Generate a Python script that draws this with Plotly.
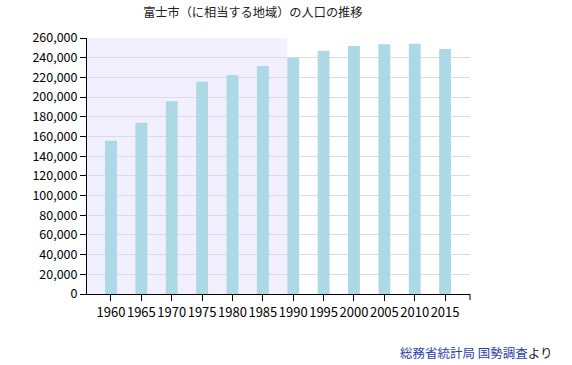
import plotly.graph_objects as go

years = ["1960", "1965", "1970", "1975", "1980", "1985", "1990", "1995", "2000", "2005", "2010", "2015"]
population = [155700, 174000, 195700, 215600, 222400, 231600, 240000, 247100, 251900, 253600, 254200, 248800]
y_ticks = list(range(0, 260001, 20000))
y_tick_labels = [f"{v:,}" for v in y_ticks]
title_text = "富士市（に相当する地域）の人口の推移"
source_link = "総務省統計局 国勢調査"
source_suffix = "より"

FONT = "Noto Sans CJK JP, DejaVu Sans, sans-serif"

fig = go.Figure()
fig.add_trace(go.Bar(
    x=years, y=population, width=0.39,
    marker=dict(color="#add8e6", line=dict(width=0)),
    hoverinfo="x+y",
))

# shaded background region
fig.add_shape(type="rect", xref="x", yref="y", x0=-0.79, x1=5.8, y0=0, y1=260000,
              fillcolor="#f2f0fe", line=dict(width=0), layer="below")
# right end tick of x axis
fig.add_shape(type="line", xref="paper", yref="paper", x0=1, x1=1, y0=0, y1=-0.024,
              line=dict(color="black", width=1))

fig.update_layout(
    width=572, height=365,
    margin=dict(l=87, r=102, t=38, b=71),
    paper_bgcolor="white", plot_bgcolor="white",
    showlegend=False,
    font=dict(family=FONT, size=12, color="black"),
    title=dict(text=title_text, xref="container", yref="container",
               x=0.442, xanchor="center", y=1 - 13 / 365, yanchor="middle",
               font=dict(size=12.2, color="#222")),
    xaxis=dict(type="category", range=[-0.79, 11.82], showline=True, linecolor="black",
               linewidth=1, ticks="outside", ticklen=6, tickcolor="black", tickangle=0,
               showgrid=False, tickfont=dict(size=13), fixedrange=True, automargin=False),
    yaxis=dict(range=[0, 260000], tickvals=y_ticks, ticktext=y_tick_labels,
               showline=True, linecolor="black", linewidth=1, ticks="outside",
               ticklen=6, tickcolor="black", showgrid=True, gridcolor="#dcdcdc",
               gridwidth=1, zeroline=False, tickfont=dict(size=12.5), fixedrange=True,
               automargin=False),
    annotations=[dict(
        xref="paper", yref="paper", x=(555 - 87) / 383, y=-(352 - 294) / 256,
        xanchor="right", yanchor="middle", showarrow=False,
        text=f"<span style='color:#2b3ea8'>{source_link}</span>{source_suffix}",
        font=dict(size=12.5, color="#222"),
    )],
)

fig.write_html("out.html", config={"displayModeBar": False},
               post_script="document.body.style.margin='0';")
